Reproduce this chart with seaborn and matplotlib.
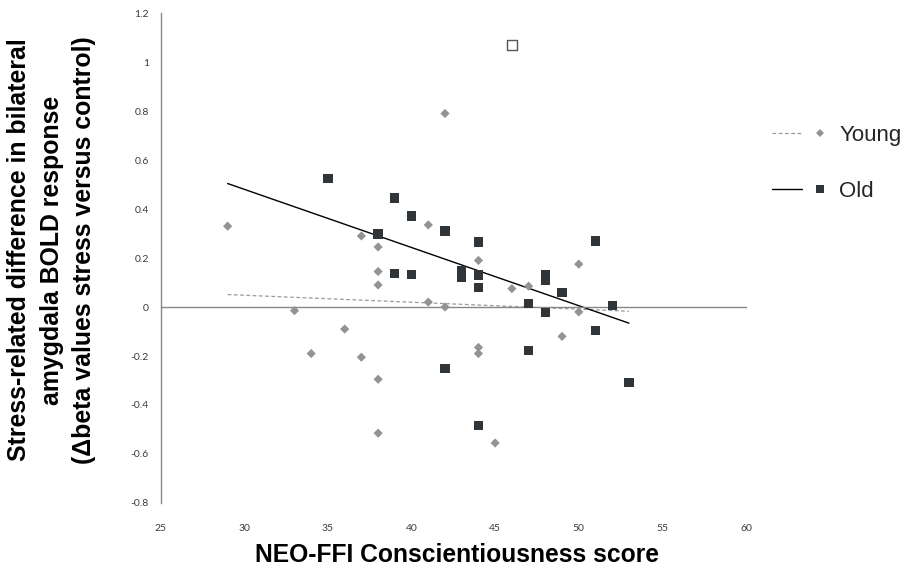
import numpy as np
import pandas as pd
import seaborn as sns
import matplotlib
matplotlib.use("Agg")
import matplotlib.pyplot as plt
from matplotlib.lines import Line2D
from matplotlib.legend_handler import HandlerTuple

# NEO-FFI conscientiousness vs. stress-related amygdala response
young_x = [29, 33, 34, 36, 37, 37, 38, 38, 38, 38, 38, 41, 41, 42, 42,
           44, 44, 44, 45, 46, 47, 49, 50, 50]
young_y = [0.33, -0.015, -0.19, -0.09, 0.29, -0.205, 0.245, 0.145, 0.09,
           -0.295, -0.515, 0.335, 0.02, 0.79, 0.0, 0.19, -0.165, -0.19,
           -0.555, 0.075, 0.085, -0.12, 0.175, -0.02]

old_x = [35, 38, 39, 39, 40, 40, 42, 42, 43, 43, 44, 44, 44, 44, 47, 47,
         48, 48, 48, 49, 51, 51, 52, 53]
old_y = [0.525, 0.298, 0.445, 0.137, 0.371, 0.133, 0.31, -0.25, 0.147,
         0.12, 0.265, 0.131, 0.08, -0.483, 0.015, -0.177, 0.133, 0.11,
         -0.022, 0.06, 0.269, -0.095, 0.007, -0.307]

# outlying older participant (open square)
outlier_x = [46]
outlier_y = [1.07]

x_ticks = [25, 30, 35, 40, 45, 50, 55, 60]
y_ticks = [-0.8, -0.6, -0.4, -0.2, 0, 0.2, 0.4, 0.6, 0.8, 1, 1.2]

YOUNG_C = "#939393"
OLD_C = "#30353a"
AXIS_C = "#878787"
TICK_TXT = "#3a3a3a"
TICK_FONT = ["Lato", "DejaVu Sans"]

sns.set_theme(style="white")
plt.rcParams["font.family"] = ["Liberation Sans", "DejaVu Sans"]

fig = plt.figure(figsize=(9.04, 5.71), dpi=100)
ax = fig.add_axes([0.1778, 0.1191, 0.6474, 0.8581])

df_young = pd.DataFrame({"x": young_x, "y": young_y})
df_old = pd.DataFrame({"x": old_x, "y": old_y})
df_out = pd.DataFrame({"x": outlier_x, "y": outlier_y})

# linear trend lines (older group fit includes the outlying case)
fit_x = np.array([min(young_x + old_x), max(young_x + old_x)], dtype=float)
ky, by = np.polyfit(young_x, young_y, 1)
ko, bo = np.polyfit(old_x + outlier_x, old_y + outlier_y, 1)
sns.lineplot(x=fit_x, y=ky * fit_x + by, ax=ax, color="#9a9a9a",
             linestyle=(0, (3, 2)), linewidth=0.9, zorder=2)
sns.lineplot(x=fit_x, y=ko * fit_x + bo, ax=ax, color="black",
             linewidth=1.0, zorder=2)

sns.scatterplot(data=df_young, x="x", y="y", ax=ax, marker="D", s=22,
                color=YOUNG_C, edgecolor="none", zorder=3)
sns.scatterplot(data=df_old, x="x", y="y", ax=ax, marker="s", s=45,
                color=OLD_C, edgecolor="none", zorder=3)
sns.scatterplot(data=df_out, x="x", y="y", ax=ax, marker="s", s=45,
                facecolor="white", edgecolor="#555555", linewidth=1.0,
                zorder=3)

ax.set_xlim(25, 60)
ax.set_ylim(-0.8, 1.2)
ax.set_xticks(x_ticks)
ax.set_yticks(y_ticks)
ax.set_yticklabels([f"{v:g}" for v in y_ticks])

for side in ("top", "right"):
    ax.spines[side].set_visible(False)
ax.spines["left"].set_color(AXIS_C)
ax.spines["bottom"].set_color(AXIS_C)
ax.spines["left"].set_linewidth(1.0)
ax.spines["bottom"].set_linewidth(1.0)
ax.spines["bottom"].set_position(("data", 0))

ax.tick_params(axis="both", which="both", direction="out", length=3.5,
               width=1.0, color=AXIS_C)
ax.tick_params(axis="y", labelsize=7.5, labelcolor=TICK_TXT, pad=5)
ax.tick_params(axis="x", labelbottom=False)
for lab in ax.get_yticklabels():
    lab.set_family(TICK_FONT)

# x tick labels sit below the plot area
for v in x_ticks:
    ax.text(v, -0.053, f"{v:g}", transform=ax.get_xaxis_transform(),
            ha="center", va="center", fontsize=7.5, color=TICK_TXT,
            family=TICK_FONT)

ax.set_xlabel("")
ax.set_ylabel("")
fig.text(0.506, 0.028, "NEO-FFI Conscientiousness score", ha="center",
         va="center", fontsize=17.7, fontweight="bold", color="black")
fig.text(0.057, 0.562,
         "Stress-related difference in bilateral\n"
         "amygdala BOLD response\n"
         "(\u0394beta values stress versus control)",
         ha="center", va="center", rotation=90, multialignment="center",
         fontsize=17.9, fontweight="bold", color="black", linespacing=1.45)

h_young = (Line2D([], [], color="#9a9a9a", linestyle=(0, (3, 2)), linewidth=0.9),
           Line2D([], [], marker="D", color=YOUNG_C, linestyle="none",
                  markersize=4, markeredgewidth=0))
h_old = (Line2D([], [], color="black", linewidth=1.0),
         Line2D([], [], marker="s", color=OLD_C, linestyle="none",
                markersize=6, markeredgewidth=0))
fig.legend([h_young, h_old], ["Young", "Old"],
           handler_map={tuple: HandlerTuple(ndivide=None, pad=0.135)},
           loc="center left", bbox_to_anchor=(0.854, 0.714),
           frameon=False, fontsize=16, handlelength=2.83,
           labelspacing=1.6, handletextpad=0.2, borderaxespad=0,
           borderpad=0)

fig.savefig("out.png", dpi=100)
